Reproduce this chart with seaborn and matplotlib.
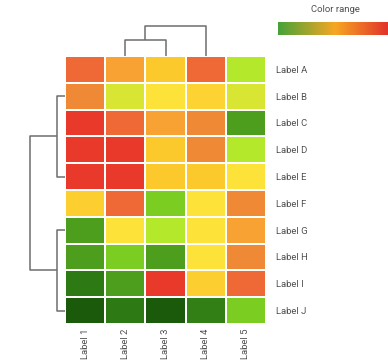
import numpy as np
import pandas as pd
import matplotlib
matplotlib.use("Agg")
import matplotlib.pyplot as plt
from matplotlib.colors import LinearSegmentedColormap, Normalize
from matplotlib.cm import ScalarMappable
import seaborn as sns

# ---- data ----
row_labels = ["Label A", "Label B", "Label C", "Label D", "Label E",
              "Label F", "Label G", "Label H", "Label I", "Label J"]
col_labels = ["Label 1", "Label 2", "Label 3", "Label 4", "Label 5"]
col1 = [9.0, 8.0, 10.0, 10.0, 10.0, 5.8, 2.0, 2.0, 1.0, 0.0]
col2 = [7.0, 4.5, 9.0, 10.0, 10.0, 9.0, 5.0, 3.0, 2.0, 1.0]
col3 = [6.0, 5.0, 7.0, 6.0, 6.0, 3.0, 4.0, 2.0, 10.0, 0.0]
col4 = [9.0, 5.6, 8.0, 8.0, 6.0, 5.0, 5.0, 5.0, 5.8, 1.2]
col5 = [4.0, 4.5, 2.0, 4.0, 5.0, 8.0, 7.0, 8.0, 9.0, 3.0]

# row dendrogram: two bracket groups joined at a root
row_groups = [["Label B", "Label C", "Label D", "Label E"],
              ["Label G", "Label H", "Label I", "Label J"]]
row_group_heights = [0.8, 0.8]
row_root_height = 3.5

# column dendrogram: (left, right, height) merges; "#k" refers to merge k
col_merges = [("Label 2", "Label 3", 1.6), ("#0", "Label 4", 3.0)]

cmap_colors = ["#1a5a0a", "#2d7a14", "#4c9e1c", "#7ccf21", "#b3e82b", "#fde23a",
               "#fcc92d", "#f8a233", "#f08936", "#ee6a35", "#e8392a"]
legend_colors = ["#45a238", "#f6a623", "#df2a2a"]

# ---- figure ----
W, H = 388, 363
fig = plt.figure(figsize=(W / 100, H / 100), dpi=100)
plt.rcParams["font.family"] = ["Roboto", "DejaVu Sans"]


def px_axes(x0, y0, x1, y1):
    return fig.add_axes([x0 / W, 1 - y1 / H, (x1 - x0) / W, (y1 - y0) / H])


df = pd.DataFrame({c: v for c, v in zip(col_labels, [col1, col2, col3, col4, col5])},
                  index=row_labels)
cmap = LinearSegmentedColormap.from_list("gyr", cmap_colors)

ax = px_axes(65, 56, 266, 324)
sns.heatmap(df, ax=ax, cmap=cmap, vmin=0, vmax=10, linewidths=1.1, linecolor="white",
            cbar=False)
ax.yaxis.tick_right()
ax.tick_params(axis="both", length=0, labelsize=6.8, colors="#505050")
ax.tick_params(axis="y", pad=7, labelrotation=0)
ax.tick_params(axis="x", pad=3, labelrotation=90)
ax.set_xlabel("")
ax.set_ylabel("")

# colour-range legend bar
cax = px_axes(278, 22, 392, 35)
leg_cmap = LinearSegmentedColormap.from_list("legend", legend_colors)
cbar = fig.colorbar(ScalarMappable(norm=Normalize(0, 10), cmap=leg_cmap), cax=cax,
                    orientation="horizontal")
cbar.outline.set_visible(False)
cbar.set_ticks([])
cax.tick_params(length=0)
fig.text(335 / W, 1 - 10 / H, "Color range", fontsize=6.8, color="#505050",
         ha="center", va="center")

line_kw = dict(color="#6e6e6e", lw=1.1, solid_capstyle="butt")

# row dendrogram
rax = px_axes(20, 56, 65, 324)
rax.set_ylim(len(row_labels), 0)
rax.set_xlim(4.5, 0)
rax.axis("off")
mids = []
for grp, h in zip(row_groups, row_group_heights):
    ys = [row_labels.index(g) + 0.5 for g in grp]
    top, bot = min(ys), max(ys)
    rax.plot([0, h, h, 0], [top, top, bot, bot], **line_kw)
    mids.append(((top + bot) / 2, h))
(m0, h0), (m1, h1) = mids
rax.plot([h0, row_root_height, row_root_height, h1], [m0, m0, m1, m1], **line_kw)

# column dendrogram
dax = px_axes(65, 16, 266, 56)
dax.set_xlim(0, len(col_labels))
dax.set_ylim(0, 4)
dax.axis("off")
nodes = []
for a, b, h in col_merges:
    pts = []
    for n in (a, b):
        if n.startswith("#"):
            pts.append(nodes[int(n[1:])])
        else:
            pts.append((col_labels.index(n) + 0.5, 0.0))
    (xa, ha), (xb, hb) = pts
    dax.plot([xa, xa, xb, xb], [ha, h, h, hb], **line_kw)
    nodes.append(((xa + xb) / 2, h))

fig.savefig("out.png", dpi=100)
